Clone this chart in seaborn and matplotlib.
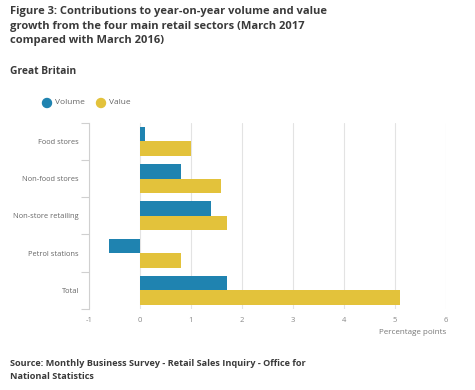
import matplotlib
matplotlib.use("Agg")
import matplotlib.pyplot as plt
import seaborn as sns
import pandas as pd
import numpy as np

categories = ["Food stores", "Non-food stores", "Non-store retailing", "Petrol stations", "Total"]
volume = [0.1, 0.8, 1.4, -0.6, 1.7]
value = [1.0, 1.6, 1.7, 0.8, 5.1]
series_names = ["Volume", "Value"]
xticks = [-1, 0, 1, 2, 3, 4, 5, 6]

sns.set_theme(style="white")
plt.rcParams['font.family'] = ['Open Sans', 'DejaVu Sans']

df = pd.DataFrame({
    "category": categories * 2,
    "series": [series_names[0]] * len(categories) + [series_names[1]] * len(categories),
    "val": volume + value,
})

colors = {"Volume": "#1f83b0", "Value": "#e3c23b"}

fig = plt.figure(figsize=(4.75, 3.9), dpi=100)
ax = fig.add_axes([0.187, 0.208, 0.752, 0.477])

sns.barplot(data=df, y="category", x="val", hue="series", order=categories,
            hue_order=series_names, palette=colors, orient="h", width=0.78,
            saturation=1, legend=False, ax=ax, zorder=3, linewidth=0, edgecolor="none")

ax.set_xlim(-1, 6)
ax.set_ylim(4.5, -0.5)
ax.set_xticks(xticks)
ax.set_xticklabels([str(t) for t in xticks])
ax.xaxis.grid(True, color="#e3e3e3", linewidth=0.8, zorder=0)
ax.set_axisbelow(True)
ax.set_xlabel("")
ax.set_ylabel("")
for s in ["top", "right", "bottom"]:
    ax.spines[s].set_visible(False)
ax.spines["left"].set_color("#d0d0d0")
ax.spines["left"].set_linewidth(0.8)
ax.tick_params(axis="x", length=0, labelsize=5.5, labelcolor="#888888", pad=6)
ax.tick_params(axis="y", which="major", left=False, length=0, labelsize=5.4,
               labelcolor="#666666", pad=7)
ax.set_yticks(np.arange(-0.5, len(categories) + 0.5, 1.0), minor=True)
ax.tick_params(axis="y", which="minor", left=True, length=6, color="#d0d0d0", width=0.8)

fig.text(0.939, 1 - 333 / 390, "Percentage points", ha="right", va="center",
         fontsize=5.8, color="#777777")

# legend
for i, name in enumerate(series_names):
    xc = [47, 101][i] / 475
    fig.patches.append(matplotlib.patches.Ellipse((xc, 1 - 103 / 390), 9 / 475, 9 / 390,
                                                  transform=fig.transFigure, color=colors[name]))
    fig.text(xc + 8 / 475, 1 - 103 / 390, name, ha="left", va="center",
             fontsize=6.0, color="#666666")

title = "Figure 3: Contributions to year-on-year volume and value\ngrowth from the four main retail sectors (March 2017\ncompared with March 2016)"
fig.text(10 / 475, 1 - 6 / 390, title, ha="left", va="top", fontsize=8.0,
         fontweight="bold", color="#3a3a3a", linespacing=1.45)
fig.text(10 / 475, 1 - 72 / 390, "Great Britain", ha="left", va="center", fontsize=7.4,
         fontweight="bold", color="#3a3a3a")
fig.text(10 / 475, 1 - 359 / 390,
         "Source: Monthly Business Survey - Retail Sales Inquiry - Office for\nNational Statistics",
         ha="left", va="top", fontsize=6.6, fontweight="bold", color="#3a3a3a", linespacing=1.6)

fig.savefig("out.png", dpi=100, facecolor="white")
